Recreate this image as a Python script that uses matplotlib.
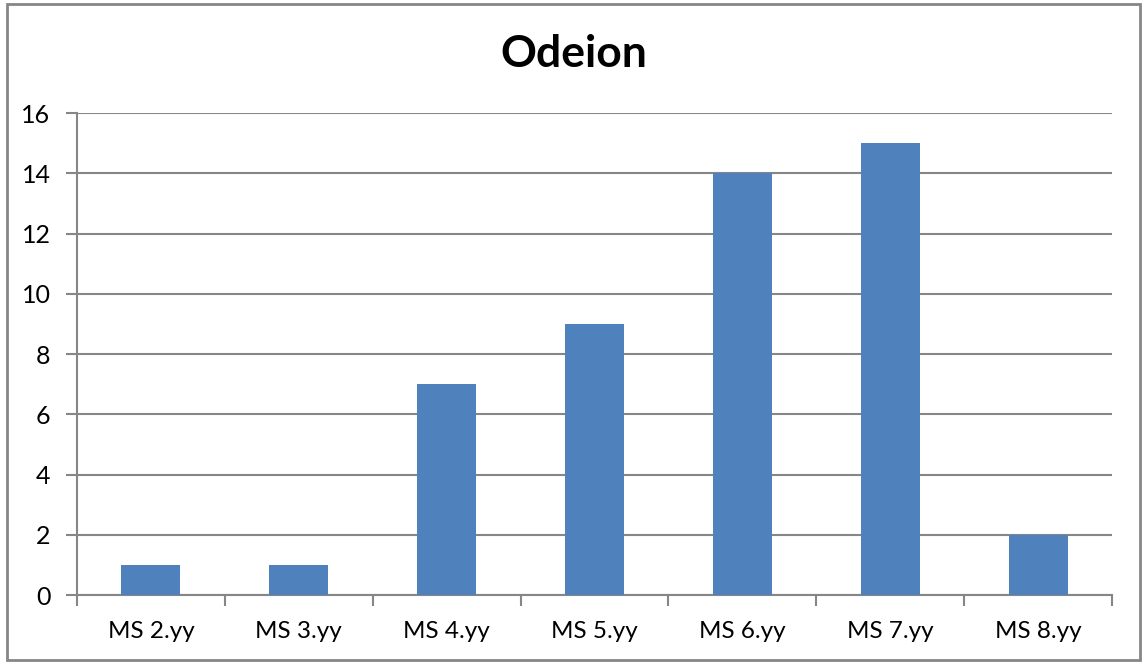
import matplotlib.pyplot as plt
from matplotlib.patches import Rectangle

# data
categories = ["MS 2.yy", "MS 3.yy", "MS 4.yy", "MS 5.yy", "MS 6.yy", "MS 7.yy", "MS 8.yy"]
values = [1, 1, 7, 9, 14, 15, 2]
y_ticks = [0, 2, 4, 6, 8, 10, 12, 14, 16]

plt.rcParams['font.family'] = ['Lato', 'DejaVu Sans']

grey = "#868686"

fig = plt.figure(figsize=(11.47, 6.64), dpi=100)
ax = fig.add_axes([0.0671, 0.1039, 0.9024, 0.7259])

x = list(range(len(categories)))
ax.bar(x, values, width=0.4, color="#4F81BD", zorder=3)

ax.set_xlim(-0.5, len(categories) - 0.5)
ax.set_ylim(0, 16)
ax.set_yticks(y_ticks)
ax.yaxis.grid(True, color=grey, linewidth=1.5, zorder=0)
ax.set_axisbelow(True)

ax.set_xticks(x)
ax.set_xticklabels(categories)
ax.set_xticks([i - 0.5 for i in range(len(categories) + 1)], minor=True)
ax.tick_params(axis="x", which="major", length=0, pad=19, labelsize=17.5)
ax.tick_params(axis="x", which="minor", length=8, width=1.5, color=grey)
ax.tick_params(axis="y", length=8, width=1.5, color=grey, pad=11, labelsize=18)

for side in ["top", "right"]:
    ax.spines[side].set_visible(False)
for side in ["left", "bottom"]:
    ax.spines[side].set_color(grey)
    ax.spines[side].set_linewidth(1.5)

fig.text(0.5, 0.918, "Odeion", ha="center", va="center", fontsize=32, fontweight="bold")

# outer chart border
fig.patches.append(Rectangle((7 / 1147, 4 / 664), 1133 / 1147, 656 / 664,
                             transform=fig.transFigure, fill=False,
                             edgecolor=grey, linewidth=2))

fig.savefig("out.png", dpi=100)
